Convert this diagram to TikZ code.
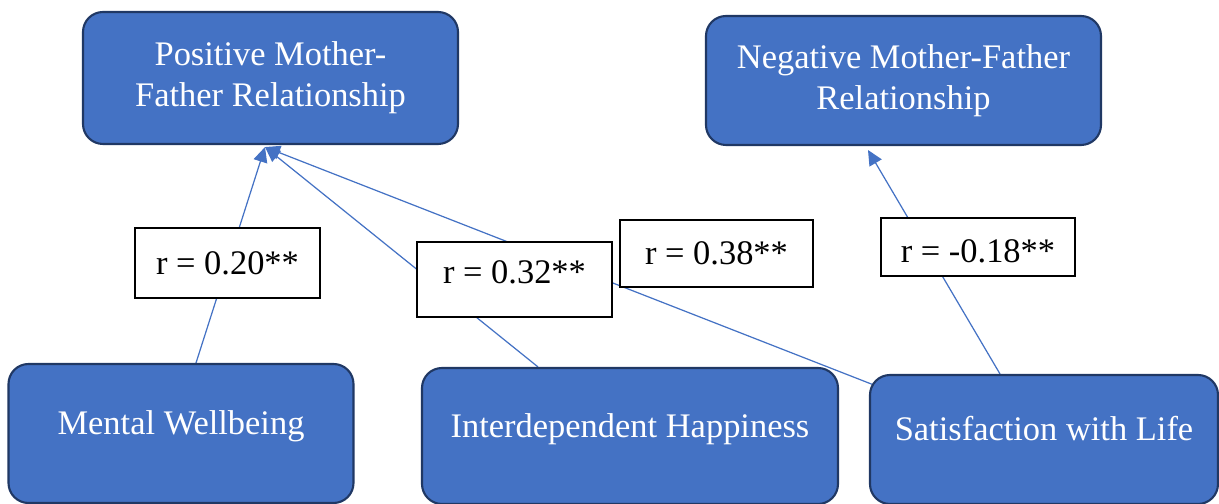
\documentclass[tikz,border=0pt]{standalone}
\usepackage{fontspec}
\setmainfont{Liberation Serif}
\usetikzlibrary{arrows.meta, backgrounds}
\definecolor{boxblue}{HTML}{4472C4}
\definecolor{boxedge}{HTML}{203864}

\begin{document}
\begin{tikzpicture}[
    varbox/.style={rounded corners=0.4cm, fill=boxblue, draw=boxedge, line width=1.2pt,
      text=white, align=center, font=\fontsize{19.6}{23.3}\selectfont},
    rbox/.style={draw=black, line width=0.8pt, fill=white, font=\fontsize{19.6}{23.3}\selectfont},
    corr/.style={draw=boxblue, line width=0.7pt},
    corrarrow/.style={-{Triangle[length=0.3cm, width=0.28cm]}}
  ]
  \useasboundingbox (0,0) rectangle (24.38,10.08);

  % Relationship boxes
  \node[varbox, minimum width=7.5cm, minimum height=2.64cm] (pos) at (5.41,8.52) {Positive Mother-\\Father Relationship};
  \node[varbox, minimum width=7.9cm, minimum height=2.58cm] (neg) at (18.07,8.47) {Negative Mother-Father\\Relationship};

  % Outcome boxes
  \node[varbox, text depth=0.43cm, minimum width=6.9cm, minimum height=2.78cm] (mwb) at (3.62,1.41) {Mental Wellbeing};
  \node[varbox, text depth=0.43cm, minimum width=8.32cm, minimum height=2.72cm] (idh) at (12.6,1.36) {Interdependent Happiness};
  \node[varbox, text depth=0.43cm, minimum width=6.96cm, minimum height=2.58cm] (swl) at (20.88,1.29) {Satisfaction with Life};

  % Arrow ends
  \coordinate (posin) at ([xshift=-0.11cm, yshift=-0.04cm]pos.south);
  \coordinate (negin) at ([xshift=-0.71cm, yshift=-0.08cm]neg.south);

  % Connectors
  \begin{scope}[on background layer]
    \draw[corr, corrarrow] ([xshift=0.3cm]mwb.north) -- (posin);
    \draw[corr, corrarrow] ([xshift=-1.84cm]idh.north) -- (posin);
    \draw[corr, corrarrow] ([shift={(0.3,-0.3)}]swl.north west) -- (posin);
    \draw[corr, corrarrow] ([xshift=-0.88cm]swl.north) -- (negin);
  \end{scope}

  % Correlations
  \node[rbox, minimum width=3.7cm, minimum height=1.4cm] (r20) at (4.55,4.82) {r = 0.20**};
  \node[rbox, text depth=0.28cm, minimum width=3.9cm, minimum height=1.5cm] (r32) at (10.29,4.49) {r = 0.32**};
  \node[rbox, minimum width=3.86cm, minimum height=1.34cm] (r38) at (14.33,5.01) {r = 0.38**};
  \node[rbox, text height=0.63cm, minimum width=3.88cm, minimum height=1.16cm] (r18) at (19.56,5.14) {r = -0.18**};
\end{tikzpicture}
\end{document}
